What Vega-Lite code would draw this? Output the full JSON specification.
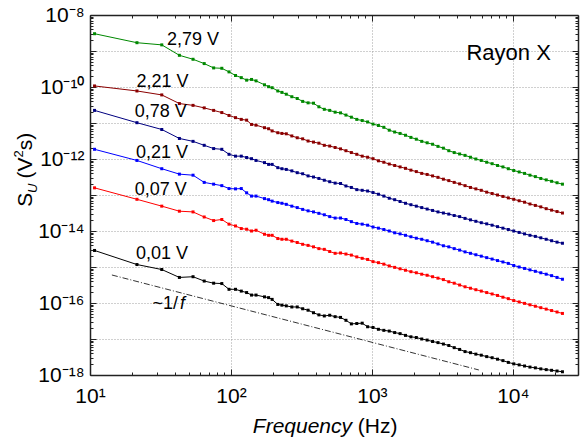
{
"$schema": "https://vega.github.io/schema/vega-lite/v6.json",
"width": 488, "height": 360,
"autosize": "none",
"padding": {"left": 90, "top": 15, "right": 9, "bottom": 64},
"config": {"view": {"stroke": null}, "font": "Liberation Sans"},
"datasets": {
"spec": [
{"f":10.77,"g":3.02e-9,"d":1.07e-10,"n":2.24e-11,"b":1.86e-12,"r":1.58e-13,"k":2.88e-15},
{"f":21.53,"g":1.70e-9,"d":7.76e-11,"n":1.02e-11,"b":9.12e-13,"r":7.59e-14,"k":1.17e-15},
{"f":32.3,"g":1.48e-9,"d":6.03e-11,"n":6.61e-12,"b":5.37e-13,"r":4.90e-14,"k":8.51e-16},
{"f":43.07,"g":7.59e-10,"d":3.47e-11,"n":3.72e-12,"b":3.80e-13,"r":3.55e-14,"k":5.13e-16},
{"f":53.83,"g":5.89e-10,"d":3.09e-11,"n":3.09e-12,"b":3.55e-13,"r":3.39e-14,"k":5.37e-16},
{"f":64.6,"g":4.47e-10,"d":2.63e-11,"n":2.40e-12,"b":2.24e-13,"r":2.45e-14,"k":4.07e-16},
{"f":75.37,"g":3.39e-10,"d":2.24e-11,"n":1.95e-12,"b":2.00e-13,"r":1.95e-14,"k":3.55e-16},
{"f":86.13,"g":3.31e-10,"d":1.95e-11,"n":1.86e-12,"b":1.82e-13,"r":2.09e-14,"k":3.47e-16},
{"f":96.9,"g":2.63e-10,"d":1.62e-11,"n":1.35e-12,"b":1.51e-13,"r":1.55e-14,"k":2.40e-16},
{"f":107.7,"g":2.09e-10,"d":1.41e-11,"n":1.20e-12,"b":1.48e-13,"r":1.38e-14,"k":2.40e-16},
{"f":118.4,"g":1.82e-10,"d":1.26e-11,"n":1.20e-12,"b":1.51e-13,"r":1.17e-14,"k":2.14e-16},
{"f":129.2,"g":1.55e-10,"d":1.20e-11,"n":1.10e-12,"b":1.15e-13,"r":1.12e-14,"k":1.95e-16},
{"f":140,"g":1.62e-10,"d":9.12e-12,"n":1.02e-12,"b":9.33e-14,"r":1.00e-14,"k":1.66e-16},
{"f":150.7,"g":1.48e-10,"d":8.71e-12,"n":9.12e-13,"b":9.33e-14,"r":1.05e-14,"k":1.66e-16},
{"f":173,"g":1.15e-10,"d":7.41e-12,"n":7.94e-13,"b":7.94e-14,"r":8.13e-15,"k":1.48e-16},
{"f":185,"g":1.02e-10,"d":6.92e-12,"n":7.08e-13,"b":7.41e-14,"r":7.59e-15,"k":1.41e-16},
{"f":196,"g":9.55e-11,"d":6.03e-12,"n":7.08e-13,"b":6.76e-14,"r":7.59e-15,"k":1.26e-16},
{"f":215,"g":7.76e-11,"d":5.37e-12,"n":5.75e-13,"b":6.17e-14,"r":6.17e-15,"k":9.12e-17},
{"f":230,"g":7.08e-11,"d":5.13e-12,"n":5.37e-13,"b":5.89e-14,"r":5.89e-15,"k":8.71e-17},
{"f":247,"g":6.31e-11,"d":5.01e-12,"n":5.13e-13,"b":5.50e-14,"r":5.89e-15,"k":8.32e-17},
{"f":270.4,"g":5.37e-11,"d":4.37e-12,"n":4.68e-13,"b":4.90e-14,"r":5.25e-15,"k":7.76e-17},
{"f":295.4,"g":4.79e-11,"d":3.89e-12,"n":4.17e-13,"b":4.47e-14,"r":4.79e-15,"k":7.76e-17},
{"f":322.7,"g":3.98e-11,"d":3.63e-12,"n":3.89e-13,"b":3.98e-14,"r":4.27e-15,"k":6.92e-17},
{"f":352.6,"g":3.63e-11,"d":3.16e-12,"n":3.39e-13,"b":3.63e-14,"r":3.98e-15,"k":6.31e-17},
{"f":385.2,"g":3.55e-11,"d":2.95e-12,"n":3.16e-13,"b":3.39e-14,"r":3.63e-15,"k":5.37e-17},
{"f":420.7,"g":2.82e-11,"d":2.75e-12,"n":2.88e-13,"b":3.09e-14,"r":3.24e-15,"k":4.68e-17},
{"f":459.6,"g":2.40e-11,"d":2.40e-12,"n":2.57e-13,"b":2.82e-14,"r":3.09e-15,"k":4.37e-17},
{"f":502.1,"g":2.24e-11,"d":2.29e-12,"n":2.34e-13,"b":2.51e-14,"r":2.69e-15,"k":4.57e-17},
{"f":548.5,"g":2.00e-11,"d":2.09e-12,"n":2.14e-13,"b":2.29e-14,"r":2.40e-15,"k":4.17e-17},
{"f":599.2,"g":1.91e-11,"d":1.91e-12,"n":2.09e-13,"b":2.29e-14,"r":2.45e-15,"k":3.98e-17},
{"f":654.6,"g":1.66e-11,"d":1.70e-12,"n":1.78e-13,"b":2.09e-14,"r":2.29e-15,"k":3.31e-17},
{"f":715.2,"g":1.45e-11,"d":1.51e-12,"n":1.62e-13,"b":1.82e-14,"r":2.14e-15,"k":2.63e-17},
{"f":781.3,"g":1.26e-11,"d":1.35e-12,"n":1.41e-13,"b":1.62e-14,"r":1.91e-15,"k":2.69e-17},
{"f":853.6,"g":1.17e-11,"d":1.20e-12,"n":1.35e-13,"b":1.55e-14,"r":1.74e-15,"k":2.75e-17},
{"f":932.5,"g":1.07e-11,"d":1.12e-12,"n":1.29e-13,"b":1.45e-14,"r":1.62e-15,"k":2.19e-17},
{"f":1018.6,"g":9.33e-12,"d":1.02e-12,"n":1.17e-13,"b":1.29e-14,"r":1.41e-15,"k":2.09e-17},
{"f":1112.8,"g":8.51e-12,"d":8.91e-13,"n":1.05e-13,"b":1.20e-14,"r":1.32e-15,"k":1.86e-17},
{"f":1215.7,"g":7.59e-12,"d":8.13e-13,"n":9.33e-14,"b":1.10e-14,"r":1.20e-15,"k":1.74e-17},
{"f":1328.1,"g":6.31e-12,"d":7.24e-13,"n":8.13e-14,"b":1.00e-14,"r":1.07e-15,"k":1.66e-17},
{"f":1450.9,"g":5.62e-12,"d":6.61e-13,"n":7.41e-14,"b":8.91e-15,"r":9.77e-16,"k":1.51e-17},
{"f":1585,"g":5.13e-12,"d":6.03e-13,"n":6.61e-14,"b":8.32e-15,"r":8.91e-16,"k":1.41e-17},
{"f":1731.6,"g":4.57e-12,"d":5.50e-13,"n":5.89e-14,"b":7.59e-15,"r":8.13e-16,"k":1.26e-17},
{"f":1891.7,"g":3.98e-12,"d":4.90e-13,"n":5.37e-14,"b":6.92e-15,"r":7.41e-16,"k":1.15e-17},
{"f":2066.6,"g":3.55e-12,"d":4.47e-13,"n":4.90e-14,"b":6.31e-15,"r":6.92e-16,"k":1.10e-17},
{"f":2257.7,"g":3.09e-12,"d":3.98e-13,"n":4.47e-14,"b":5.89e-15,"r":6.31e-16,"k":1.00e-17},
{"f":2466.5,"g":2.82e-12,"d":3.72e-13,"n":4.07e-14,"b":5.37e-15,"r":5.89e-16,"k":9.33e-18},
{"f":2694.6,"g":2.57e-12,"d":3.39e-13,"n":3.72e-14,"b":4.90e-15,"r":5.37e-16,"k":8.51e-18},
{"f":2943.7,"g":2.24e-12,"d":3.09e-13,"n":3.39e-14,"b":4.37e-15,"r":4.90e-16,"k":7.94e-18},
{"f":3215.9,"g":2.00e-12,"d":2.75e-13,"n":3.16e-14,"b":3.89e-15,"r":4.47e-16,"k":7.24e-18},
{"f":3513.3,"g":1.70e-12,"d":2.51e-13,"n":2.95e-14,"b":3.63e-15,"r":3.89e-16,"k":6.61e-18},
{"f":3838.2,"g":1.51e-12,"d":2.24e-13,"n":2.69e-14,"b":3.24e-15,"r":3.55e-16,"k":5.75e-18},
{"f":4193.1,"g":1.38e-12,"d":2.04e-13,"n":2.51e-14,"b":2.95e-15,"r":3.16e-16,"k":5.13e-18},
{"f":4580.8,"g":1.26e-12,"d":1.82e-13,"n":2.24e-14,"b":2.63e-15,"r":2.82e-16,"k":4.47e-18},
{"f":5004.4,"g":1.12e-12,"d":1.62e-13,"n":2.04e-14,"b":2.40e-15,"r":2.57e-16,"k":4.17e-18},
{"f":5467.1,"g":1.00e-12,"d":1.48e-13,"n":1.86e-14,"b":2.19e-15,"r":2.34e-16,"k":3.80e-18},
{"f":5972.6,"g":9.12e-13,"d":1.35e-13,"n":1.70e-14,"b":2.00e-15,"r":2.14e-16,"k":3.55e-18},
{"f":6525,"g":8.13e-13,"d":1.20e-13,"n":1.58e-14,"b":1.82e-15,"r":1.95e-16,"k":3.24e-18},
{"f":7128,"g":7.41e-13,"d":1.10e-13,"n":1.45e-14,"b":1.66e-15,"r":1.78e-16,"k":3.02e-18},
{"f":7787,"g":6.61e-13,"d":1.00e-13,"n":1.32e-14,"b":1.51e-15,"r":1.62e-16,"k":2.75e-18},
{"f":8507,"g":6.03e-13,"d":9.12e-14,"n":1.20e-14,"b":1.38e-15,"r":1.45e-16,"k":2.51e-18},
{"f":9290,"g":5.37e-13,"d":8.32e-14,"n":1.10e-14,"b":1.26e-15,"r":1.32e-16,"k":2.24e-18},
{"f":10150,"g":4.79e-13,"d":7.59e-14,"n":1.00e-14,"b":1.10e-15,"r":1.17e-16,"k":2.04e-18},
{"f":11090,"g":4.37e-13,"d":6.92e-14,"n":9.12e-15,"b":1.00e-15,"r":1.07e-16,"k":1.91e-18},
{"f":12110,"g":3.98e-13,"d":6.31e-14,"n":8.32e-15,"b":9.12e-16,"r":9.77e-17,"k":1.78e-18},
{"f":13230,"g":3.55e-13,"d":5.62e-14,"n":7.59e-15,"b":8.32e-16,"r":8.91e-17,"k":1.66e-18},
{"f":14450,"g":3.24e-13,"d":5.13e-14,"n":7.08e-15,"b":7.59e-16,"r":8.13e-17,"k":1.58e-18},
{"f":15790,"g":2.88e-13,"d":4.68e-14,"n":6.46e-15,"b":6.92e-16,"r":7.41e-17,"k":1.48e-18},
{"f":17250,"g":2.63e-13,"d":4.17e-14,"n":5.89e-15,"b":6.31e-16,"r":6.76e-17,"k":1.41e-18},
{"f":18840,"g":2.40e-13,"d":3.80e-14,"n":5.37e-15,"b":5.75e-16,"r":6.17e-17,"k":1.35e-18},
{"f":20590,"g":2.19e-13,"d":3.47e-14,"n":4.90e-15,"b":5.13e-16,"r":5.62e-17,"k":1.29e-18},
{"f":22490,"g":2.00e-13,"d":3.16e-14,"n":4.57e-15,"b":4.57e-16,"r":5.13e-17,"k":1.23e-18}
],
"ref": [{"f":14.3,"v":6.0e-16},{"f":5740,"v":1.38e-18}],
"labels": [
{"f":35.2,"v":1.96e-9,"t":"2,79 V"},
{"f":21.4,"v":1.38e-10,"t":"2,21 V"},
{"f":20.8,"v":2.02e-11,"t":"0,78 V"},
{"f":21.2,"v":1.48e-12,"t":"0,21 V"},
{"f":20.8,"v":1.41e-13,"t":"0,07 V"},
{"f":21.2,"v":2.34e-15,"t":"0,01 V"}
]
},
"layer": [
{
"layer": [
{
"data": {"name": "spec"},
"transform": [{"fold": ["g","d","n","b","r","k"], "as": ["s","v"]}],
"mark": {"type": "line", "strokeWidth": 1},
"encoding": {
"x": {"field": "f", "type": "quantitative",
 "scale": {"type": "log", "domain": [10, 29000], "nice": false},
 "axis": {"title": null, "orient": "bottom",
  "values": [10,20,30,40,50,60,70,80,90,100,200,300,400,500,600,700,800,900,1000,2000,3000,4000,5000,6000,7000,8000,9000,10000,20000],
  "labelExpr": "datum.value == 10 ? '10\u00b9' : datum.value == 100 ? '10\u00b2' : datum.value == 1000 ? '10\u00b3' : datum.value == 10000 ? '10\u2074' : ''",
  "labelFontSize": 21, "labelColor": "#000", "labelFlush": false, "labelOverlap": false, "labelBaseline": "top", "labelPadding": 16,
  "tickSize": {"condition": {"test": "abs(log(datum.value)/LN10 - round(log(datum.value)/LN10)) < 0.001", "value": -6}, "value": -3},
  "tickColor": "#222", "tickWidth": 1, "domainColor": "#222", "domainWidth": 1.5,
  "grid": true, "gridDash": [1, 2], "gridColor": "#a0a0a0", "gridWidth": 1,
  "gridOpacity": {"condition": {"test": "abs(log(datum.value)/LN10 - round(log(datum.value)/LN10)) < 0.001", "value": 1}, "value": 0}}},
"y": {"field": "v", "type": "quantitative",
 "scale": {"type": "log", "domain": [1e-18, 1e-8], "nice": false},
 "axis": {"title": null, "orient": "left",
  "values": [1e-18,2e-18,3e-18,4e-18,5e-18,6e-18,7e-18,8e-18,9e-18,1e-17,2e-17,3e-17,4e-17,5e-17,6e-17,7e-17,8e-17,9e-17,1e-16,2e-16,3e-16,4e-16,5e-16,6e-16,7e-16,8e-16,9e-16,1e-15,2e-15,3e-15,4e-15,5e-15,6e-15,7e-15,8e-15,9e-15,1e-14,2e-14,3e-14,4e-14,5e-14,6e-14,7e-14,8e-14,9e-14,1e-13,2e-13,3e-13,4e-13,5e-13,6e-13,7e-13,8e-13,9e-13,1e-12,2e-12,3e-12,4e-12,5e-12,6e-12,7e-12,8e-12,9e-12,1e-11,2e-11,3e-11,4e-11,5e-11,6e-11,7e-11,8e-11,9e-11,1e-10,2e-10,3e-10,4e-10,5e-10,6e-10,7e-10,8e-10,9e-10,1e-9,2e-9,3e-9,4e-9,5e-9,6e-9,7e-9,8e-9,9e-9,1e-8],
  "labelExpr": "abs(log(datum.value)/LN10 - round(log(datum.value)/LN10)) > 0.001 || round(log(datum.value)/LN10) % 2 != 0 ? '' : '10\u207b' + (round(-log(datum.value)/LN10) >= 10 ? '\u00b9' : '') + substring('\u2070\u00b9\u00b2\u00b3\u2074\u2075\u2076\u2077\u2078\u2079', round(-log(datum.value)/LN10) % 10, round(-log(datum.value)/LN10) % 10 + 1)",
  "labelFontSize": 21, "labelColor": "#000", "labelFlush": false, "labelOverlap": false, "labelPadding": 12,
  "tickSize": {"condition": {"test": "abs(log(datum.value)/LN10 - round(log(datum.value)/LN10)) < 0.001", "value": -6}, "value": -3},
  "tickColor": "#222", "tickWidth": 1, "domainColor": "#222", "domainWidth": 1.5,
  "grid": true, "gridDash": [1, 2], "gridColor": "#a0a0a0", "gridWidth": 1,
  "gridOpacity": {"condition": {"test": "abs(log(datum.value)/LN10 - round(log(datum.value)/LN10)) < 0.001", "value": 1}, "value": 0}}},
"color": {"field": "s", "type": "nominal", "legend": null,
 "scale": {"domain": ["g","d","n","b","r","k"], "range": ["#008800","#8b0000","#000080","#0000ff","#ff0000","#000000"]}},
"detail": {"field": "s"}
}
},
{
"data": {"name": "spec"},
"transform": [{"fold": ["g","d","n","b","r","k"], "as": ["s","v"]}],
"mark": {"type": "square", "size": 9, "opacity": 1},
"encoding": {
"x": {"field": "f", "type": "quantitative"},
"y": {"field": "v", "type": "quantitative"},
"color": {"field": "s", "type": "nominal", "legend": null}
}
},
{
"data": {"name": "ref"},
"mark": {"type": "line", "color": "#000", "strokeWidth": 0.8, "strokeDash": [6, 2, 1, 2]},
"encoding": {
"x": {"field": "f", "type": "quantitative"},
"y": {"field": "v", "type": "quantitative"}
}
},
{
"data": {"name": "labels"},
"mark": {"type": "text", "align": "left", "baseline": "middle", "fontSize": 18, "color": "#000"},
"encoding": {
"x": {"field": "f", "type": "quantitative"},
"y": {"field": "v", "type": "quantitative"},
"text": {"field": "t"}
}
},
{
"data": {"values": [{}]},
"mark": {"type": "text", "align": "left", "baseline": "middle", "fontSize": 18, "color": "#000"},
"encoding": {"x": {"datum": 27.8, "type": "quantitative"}, "y": {"datum": 9.3e-17, "type": "quantitative"}, "text": {"value": "~1/"}}
},
{
"data": {"values": [{}]},
"mark": {"type": "text", "align": "left", "baseline": "middle", "fontSize": 18, "fontStyle": "italic", "color": "#000"},
"encoding": {"x": {"datum": 43.5, "type": "quantitative"}, "y": {"datum": 9.3e-17, "type": "quantitative"}, "text": {"value": "f"}}
},
{
"data": {"values": [{}]},
"mark": {"type": "text", "align": "left", "baseline": "middle", "fontSize": 22, "color": "#000"},
"encoding": {"x": {"datum": 4690, "type": "quantitative"}, "y": {"datum": 8.6e-10, "type": "quantitative"}, "text": {"value": "Rayon X"}}
},
{
"data": {"values": [{}]},
"mark": {"type": "text", "align": "left", "baseline": "alphabetic", "fontSize": 21, "fontStyle": "italic", "color": "#000", "dy": 58},
"encoding": {"x": {"datum": 143, "type": "quantitative"}, "y": {"datum": 1e-18, "type": "quantitative"}, "text": {"value": "Frequency"}}
},
{
"data": {"values": [{}]},
"mark": {"type": "text", "align": "left", "baseline": "alphabetic", "fontSize": 21, "color": "#000", "dy": 58},
"encoding": {"x": {"datum": 795, "type": "quantitative"}, "y": {"datum": 1e-18, "type": "quantitative"}, "text": {"value": "(Hz)"}}
},
{
"data": {"values": [{"v": 4.68e-14, "t": "S"}, {"v": 2.88e-13, "t": "(V"}, {"v": 1.74e-12, "t": "s)"}]},
"mark": {"type": "text", "align": "left", "baseline": "alphabetic", "fontSize": 21, "color": "#000", "angle": 270, "dy": -58},
"encoding": {"x": {"datum": 10, "type": "quantitative"}, "y": {"field": "v", "type": "quantitative"}, "text": {"field": "t"}}
},
{
"data": {"values": [{"v": 1.14e-13, "t": "U"}]},
"mark": {"type": "text", "align": "left", "baseline": "alphabetic", "fontSize": 13, "fontStyle": "italic", "color": "#000", "angle": 270, "dy": -53},
"encoding": {"x": {"datum": 10, "type": "quantitative"}, "y": {"field": "v", "type": "quantitative"}, "text": {"field": "t"}}
},
{
"data": {"values": [{"v": 1.10e-12, "t": "2"}]},
"mark": {"type": "text", "align": "left", "baseline": "alphabetic", "fontSize": 13, "color": "#000", "angle": 270, "dy": -67},
"encoding": {"x": {"datum": 10, "type": "quantitative"}, "y": {"field": "v", "type": "quantitative"}, "text": {"field": "t"}}
}
]
},
{
"data": {"values": [{}]},
"mark": {"type": "point", "opacity": 0},
"encoding": {
"x": {"datum": 100, "type": "quantitative",
 "scale": {"type": "log", "domain": [10, 29000], "nice": false},
 "axis": {"title": null, "orient": "top", "labels": false,
  "values": [10,20,30,40,50,60,70,80,90,100,200,300,400,500,600,700,800,900,1000,2000,3000,4000,5000,6000,7000,8000,9000,10000,20000],
  "tickSize": {"condition": {"test": "abs(log(datum.value)/LN10 - round(log(datum.value)/LN10)) < 0.001", "value": -6}, "value": -3},
  "tickColor": "#222", "tickWidth": 1, "domainColor": "#222", "domainWidth": 1.5, "grid": false}},
"y": {"datum": 1e-12, "type": "quantitative",
 "scale": {"type": "log", "domain": [1e-18, 1e-8], "nice": false},
 "axis": {"title": null, "orient": "right", "labels": false,
  "values": [1e-18,2e-18,3e-18,4e-18,5e-18,6e-18,7e-18,8e-18,9e-18,1e-17,2e-17,3e-17,4e-17,5e-17,6e-17,7e-17,8e-17,9e-17,1e-16,2e-16,3e-16,4e-16,5e-16,6e-16,7e-16,8e-16,9e-16,1e-15,2e-15,3e-15,4e-15,5e-15,6e-15,7e-15,8e-15,9e-15,1e-14,2e-14,3e-14,4e-14,5e-14,6e-14,7e-14,8e-14,9e-14,1e-13,2e-13,3e-13,4e-13,5e-13,6e-13,7e-13,8e-13,9e-13,1e-12,2e-12,3e-12,4e-12,5e-12,6e-12,7e-12,8e-12,9e-12,1e-11,2e-11,3e-11,4e-11,5e-11,6e-11,7e-11,8e-11,9e-11,1e-10,2e-10,3e-10,4e-10,5e-10,6e-10,7e-10,8e-10,9e-10,1e-9,2e-9,3e-9,4e-9,5e-9,6e-9,7e-9,8e-9,9e-9,1e-8],
  "tickSize": {"condition": {"test": "abs(log(datum.value)/LN10 - round(log(datum.value)/LN10)) < 0.001", "value": -6}, "value": -3},
  "tickColor": "#222", "tickWidth": 1, "domainColor": "#222", "domainWidth": 1.5, "grid": false}}
}
}
],
"resolve": {"scale": {"x": "independent", "y": "independent"}}
}
